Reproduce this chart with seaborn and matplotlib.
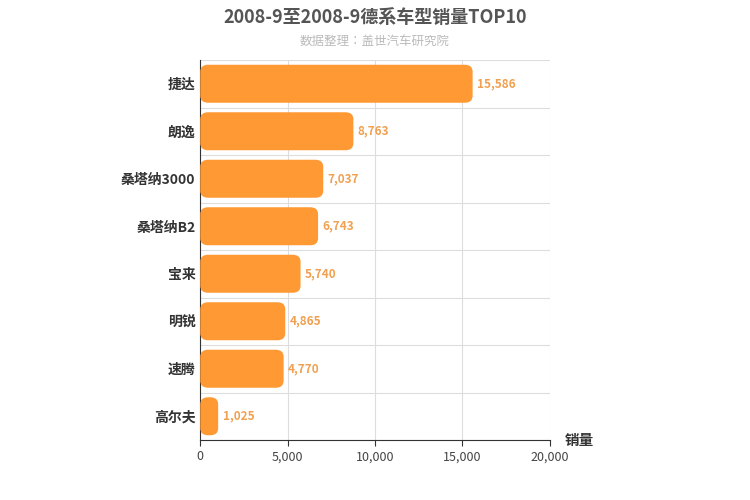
import matplotlib
matplotlib.use("Agg")
import matplotlib.pyplot as plt
import seaborn as sns
import pandas as pd
import numpy as np
from matplotlib.patches import FancyBboxPatch

categories = ["捷达", "朗逸", "桑塔纳3000", "桑塔纳B2", "宝来", "明锐", "速腾", "高尔夫"]
sales = [15586, 8763, 7037, 6743, 5740, 4865, 4770, 1025]
xticks = [0, 5000, 10000, 15000, 20000]

plt.rcParams["font.family"] = ["Noto Sans CJK SC", "Noto Sans CJK JP", "DejaVu Sans"]
df = pd.DataFrame({"car": categories, "sales": sales})
fig = plt.figure(figsize=(7.5, 5), dpi=100)
ax = fig.add_axes([0.267, 0.12, 0.466, 0.76])
sns.barplot(data=df, y="car", x="sales", color="#FF9933", width=0.8, ax=ax, saturation=1)
r = 450
asp = (7 * 8 / 380) / r
for p in list(ax.patches):
    x, y, w, h = p.get_x(), p.get_y(), p.get_width(), p.get_height()
    p.remove()
    ax.add_patch(FancyBboxPatch((x, y), w, h, boxstyle=f"round,pad=0,rounding_size={r}",
                                mutation_aspect=asp, fc="#FF9933", ec="none", zorder=3))
for i, v in enumerate(sales):
    ax.text(v + 250, i, f"{v:,}", va="center", ha="left", fontsize=8.5, color="#F0A050", fontweight="bold")
ax.set_xlim(0, 20000)
ax.set_ylim(7.5, -0.5)
ax.set_xticks(xticks)
ax.set_xticklabels([f"{t:,}" for t in xticks], fontsize=9, color="#444")
ax.set_yticks(range(len(categories)))
ax.set_yticklabels(categories, fontsize=10, color="#333", fontweight="bold")
ax.set_yticks(np.arange(-0.5, 8, 1), minor=True)
ax.grid(True, axis="x", color="#ddd", zorder=0)
ax.grid(True, axis="y", which="minor", color="#ddd", zorder=0)
ax.grid(False, axis="y", which="major")
ax.tick_params(axis="y", which="both", length=0)
ax.tick_params(axis="x", length=4, color="#333")
ax.set_axisbelow(True)
for s in ["top", "right"]:
    ax.spines[s].set_visible(False)
ax.spines["left"].set_color("#333")
ax.spines["bottom"].set_color("#333")
ax.set_xlabel("")
ax.set_ylabel("")
fig.text(0.753, 0.12, "销量", fontsize=10.5, fontweight="bold", color="#333", va="center")
fig.text(0.5, 0.965, "2008-9至2008-9德系车型销量TOP10", ha="center", va="center",
         fontsize=13, fontweight="bold", color="#555")
fig.text(0.5, 0.918, "数据整理：盖世汽车研究院", ha="center", va="center", fontsize=9, color="#bbb")
fig.savefig("out.png", dpi=100)
